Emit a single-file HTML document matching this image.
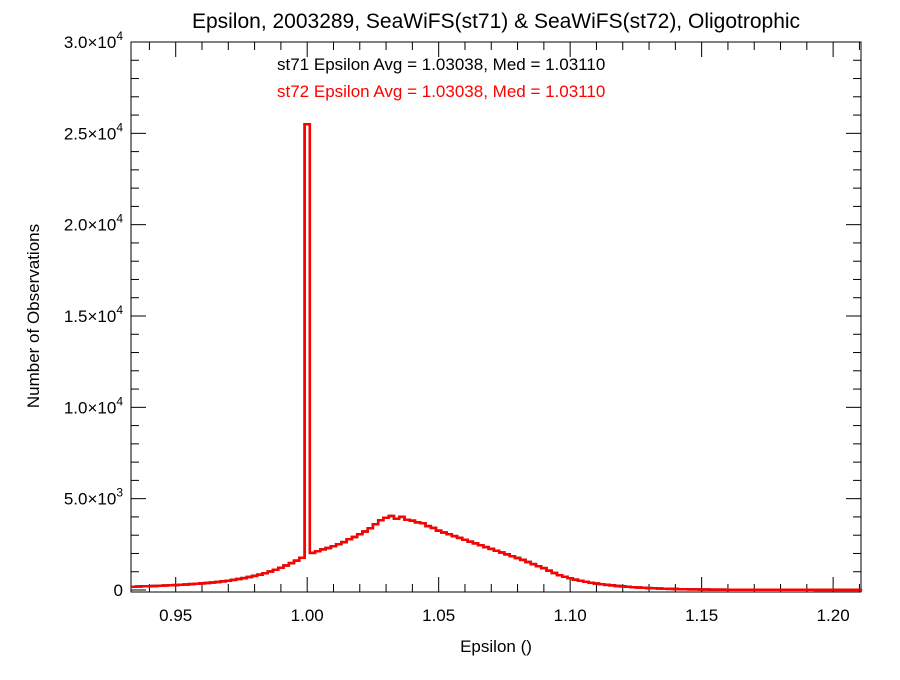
<!DOCTYPE html>
<html><head><meta charset="utf-8"><style>
body{margin:0;background:#fff}
svg text{font-family:"Liberation Sans",Arial,sans-serif}
</style></head><body>
<svg id="chart" width="900" height="675" viewBox="0 0 900 675">
<rect width="900" height="675" fill="#fff"/>
<text x="496" y="28" font-size="21" text-anchor="middle">Epsilon, 2003289, SeaWiFS(st71) &amp; SeaWiFS(st72), Oligotrophic</text>
<text x="277" y="70" font-size="17" fill="#000">st71 Epsilon Avg = 1.03038, Med = 1.03110</text>
<text x="277" y="97" font-size="17" fill="#ff0000">st72 Epsilon Avg = 1.03038, Med = 1.03110</text>
<g id="axes"></g>
<g id="series"></g>
<text x="496" y="652" font-size="17" text-anchor="middle">Epsilon ()</text>
<text x="0" y="0" font-size="17" text-anchor="middle" transform="translate(39,316) rotate(-90)">Number of Observations</text>
</svg>
<script>
const xTicks=[0.95,1.00,1.05,1.10,1.15,1.20];
const xTickLabels=["0.95","1.00","1.05","1.10","1.15","1.20"];
const yTicks=[0,5000,10000,15000,20000,25000,30000];
const yTickMant=["","5.0","1.0","1.5","2.0","2.5","3.0"];
const yTickExp=["","3","4","4","4","4","4"];
const binStart=0.933;
const binWidth=0.002;
const st71Counts=[180,190,200,210,220,230,245,255,270,285,300,320,340,360,385,410,440,470,510,550,600,650,710,770,840,920,1010,1110,1220,1340,1470,1610,1760,25500,2030,2120,2220,2300,2400,2500,2620,2780,2900,3050,3200,3380,3600,3820,3950,4050,3900,4000,3850,3800,3700,3650,3500,3400,3250,3150,3050,2950,2850,2750,2650,2550,2450,2350,2250,2150,2050,1950,1850,1750,1650,1530,1420,1300,1200,1060,930,810,720,640,570,510,450,400,355,315,280,250,220,195,172,152,135,120,105,92,80,70,60,52,45,40,35,30,27,25,23,21,19,18,17,16,15,14,13,12,12,11,11,10,10,9,9,8,8,8,7,7,7,6,6,6,6,5,5];
const st72Counts=st71Counts.slice();
const X0=131,X1=861,Y0=42,Y1=592;
const xmin=0.933,xmax=1.2106,ymin=-110,ymax=30000;
const sx=v=>X0+(v-xmin)/(xmax-xmin)*(X1-X0);
const sy=v=>Y1-(v-ymin)/(ymax-ymin)*(Y1-Y0);
const NS="http://www.w3.org/2000/svg";
const axes=document.getElementById('axes');
function mk(tag,attrs,parent){const e=document.createElementNS(NS,tag);for(const k in attrs)e.setAttribute(k,attrs[k]);parent.appendChild(e);return e;}
const frame=mk('rect',{x:X0,y:Y0,width:X1-X0,height:Y1-Y0,fill:'none',stroke:'#000','stroke-width':1},axes);


for(let k=94;k<=121;k++){const v=k/100;const x=sx(v);const major=(k%5===0);const L=major?15:8;
 const t1=mk('line',{x1:x,x2:x,y1:Y1,y2:Y1-L,stroke:'#000'},axes);
 
 
 const t2=mk('line',{x1:x,x2:x,y1:Y0,y2:Y0+L,stroke:'#000'},axes);
 
 }
xTicks.forEach((v,i)=>{const t=mk('text',{x:sx(v),y:Y1+29,'font-size':17,'text-anchor':'middle'},axes);t.textContent=xTickLabels[i];
 
 });
for(let k=0;k<=30;k++){const v=k*1000;const y=sy(v);const L=(k%5===0)?15:8;
 const t1=mk('line',{x1:X0,x2:X0+L,y1:y,y2:y,stroke:'#000'},axes);
 
 
 const t2=mk('line',{x1:X1,x2:X1-L,y1:y,y2:y,stroke:'#000'},axes);
 
 }
yTicks.forEach((v,i)=>{const y=sy(v);const t=mk('text',{x:123,y:y+6,'font-size':17,'text-anchor':'end'},axes);
 if(v===0){t.textContent='0';}else{t.textContent=yTickMant[i]+'\u00d710';const s=mk('tspan',{dy:-8,'font-size':12},t);s.textContent=yTickExp[i];}
 
 });
function stepPath(counts){let d='';counts.forEach((c,i)=>{const a=sx(binStart+i*binWidth),b=sx(binStart+(i+1)*binWidth),y=sy(c);d+=(i===0?'M':'L')+a.toFixed(1)+','+y.toFixed(1)+'L'+b.toFixed(1)+','+y.toFixed(1);});return d;}
const ser=document.getElementById('series');
const p1=mk('path',{d:stepPath(st71Counts),fill:'none',stroke:'#000','stroke-width':2.5},ser);


const p2=mk('path',{d:stepPath(st72Counts),fill:'none',stroke:'#ff0000','stroke-width':2.5},ser);


</script>
</body></html>
